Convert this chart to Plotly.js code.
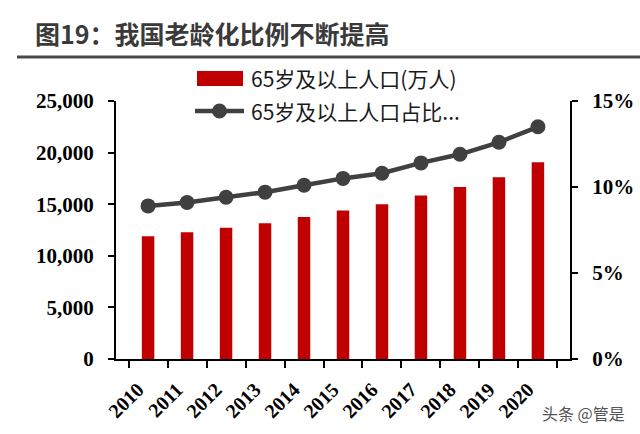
<!DOCTYPE html>
<html><head><meta charset="utf-8">
<script src="https://cdn.plot.ly/plotly-3.0.1.min.js"></script>
<style>html,body{margin:0;padding:0;background:#fff;}#c{width:640px;height:434px;}</style>
</head><body><div id="c"></div>
<script>
const years = ['2010','2011','2012','2013','2014','2015','2016','2017','2018','2019','2020'];
const pop65 = [11894,12288,12714,13161,13755,14386,15003,15831,16658,17603,19064];
const share65 = [8.9,9.1,9.4,9.7,10.1,10.5,10.8,11.4,11.9,12.6,13.5];
const barName = '65岁及以上人口(万人)';
const lineName = '65岁及以上人口占比...';
const titleText = '图19：我国老龄化比例不断提高';
const yLeftTicks = [0,5000,10000,15000,20000,25000];
const yRightTicks = [0,5,10,15];
const yRightLabels = ['0%','5%','10%','15%'];

const L=116, R=570, T=101, B=359;
const px = x => (x-L)/(R-L);
const py = y => (B-y)/(B-T);
const serif = 'Liberation Serif, Times New Roman, serif';
const cjk = 'Noto Sans CJK SC, sans-serif';

const data = [
  {type:'bar', x:years, y:pop65, name:barName, marker:{color:'#C00000'}, width:0.32, showlegend:false},
  {type:'scatter', mode:'lines+markers', x:years, y:share65, name:lineName, yaxis:'y2',
   line:{color:'#404040', width:4.5}, marker:{color:'#404040', size:15}, showlegend:false}
];

const layout = {
  width:640, height:434,
  margin:{l:L, r:640-R, t:T, b:434-B},
  paper_bgcolor:'#fff', plot_bgcolor:'#fff',
  showlegend:false,
  title:{text:titleText, x:35/640, xanchor:'left', xref:'container', y:1-35/434, yref:'container', yanchor:'middle',
         font:{family:cjk, size:25, color:'#3a3a3a', weight:'bold'}},
  xaxis:{type:'category', showline:true, linecolor:'#000', linewidth:2, ticks:'outside', tickson:'boundaries',
         ticklen:7, tickwidth:2, tickcolor:'#000', tickangle:-45, showgrid:false, ticklabelstandoff:9, ticklabelshift:-10,
         tickfont:{family:serif, size:20, color:'#000', weight:'bold'}},
  yaxis:{range:[0,25000], tickvals:yLeftTicks, tickformat:',d', showline:true, linecolor:'#000', linewidth:2,
         ticks:'outside', ticklen:6, tickwidth:2, tickcolor:'#000', showgrid:false, zeroline:false, ticklabelstandoff:10,
         tickfont:{family:serif, size:21, color:'#000', weight:'bold'}},
  yaxis2:{range:[0,15], tickmode:'array', tickvals:yRightTicks, ticktext:yRightLabels, overlaying:'y', side:'right', showline:true,
         linecolor:'#000', linewidth:2, ticks:'outside', ticklen:6, tickwidth:2, tickcolor:'#000',
         showgrid:false, zeroline:false, ticklabelstandoff:10,
         tickfont:{family:serif, size:21, color:'#000', weight:'bold'}},
  shapes:[
    {type:'line', xref:'paper', yref:'paper', x0:px(17), x1:px(640), y0:py(57), y1:py(57), line:{color:'#4a4a4a', width:3}},
    {type:'rect', xref:'paper', yref:'paper', x0:px(197), x1:px(243), y0:py(86), y1:py(71), fillcolor:'#C00000', line:{width:0}},
    {type:'line', xref:'paper', yref:'paper', x0:px(195), x1:px(244), y0:py(111), y1:py(111), line:{color:'#404040', width:4.5}},
    {type:'circle', xref:'paper', yref:'paper', x0:px(212), x1:px(227), y0:py(118.5), y1:py(103.5), fillcolor:'#404040', line:{width:0}}
  ],
  annotations:[
    {text:barName, xref:'paper', yref:'paper', x:px(249), y:py(78), xanchor:'left', yanchor:'middle', showarrow:false,
     font:{family:cjk, size:21, color:'#1a1a1a'}},
    {text:lineName, xref:'paper', yref:'paper', x:px(249), y:py(111), xanchor:'left', yanchor:'middle', showarrow:false,
     font:{family:cjk, size:21, color:'#1a1a1a'}},
    {text:'头条 @管是', xref:'paper', yref:'paper', x:px(627), y:py(413), xanchor:'right', yanchor:'middle', showarrow:false,
     font:{family:cjk, size:16, color:'#555'}}
  ]
};

Plotly.newPlot('c', data, layout, {staticPlot:true, displayModeBar:false});
</script></body></html>
